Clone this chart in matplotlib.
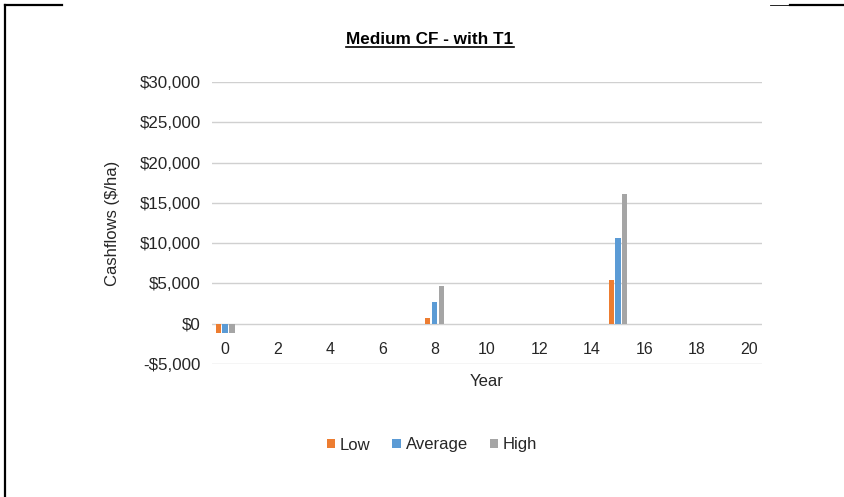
import matplotlib
matplotlib.use("Agg")
import matplotlib.pyplot as plt
from matplotlib.lines import Line2D
from matplotlib.ticker import FuncFormatter
import numpy as np

plt.rcParams['font.family'] = ['Liberation Sans', 'DejaVu Sans']

# Data
years = list(range(0, 21))
low = [0] * 21
average = [0] * 21
high = [0] * 21
low[0], average[0], high[0] = -1200, -1200, -1100
low[8], average[8], high[8] = 700, 2700, 4700
low[15], average[15], high[15] = 5450, 10600, 16100

series_names = ["Low", "Average", "High"]
colors = ["#ED7D31", "#5B9BD5", "#A5A5A5"]
y_ticks = [-5000, 0, 5000, 10000, 15000, 20000, 25000, 30000]
x_ticks = list(range(0, 21, 2))

W, H = 845, 497
fig = plt.figure(figsize=(W / 100, H / 100), dpi=100)
ax = fig.add_axes([212 / W, 1 - 364 / H, 550 / W, 282 / H])

x = np.array(years)
for i, (vals, name, c) in enumerate(zip([low, average, high], series_names, colors)):
    ax.bar(x + (i - 1) * 0.26, vals, width=0.2, color=c, label=name, zorder=3)

ax.set_xlim(-0.5, 20.5)
ax.set_ylim(-5000, 30000)
ax.set_yticks(y_ticks)
ax.set_xticks(x_ticks)


def money(v, pos):
    if v < 0:
        return "-${:,.0f}".format(-v)
    return "${:,.0f}".format(v)


ax.yaxis.set_major_formatter(FuncFormatter(money))
ax.grid(axis='y', color='#d0d0d0', linewidth=1, zorder=0)
for s in ax.spines.values():
    s.set_visible(False)
ax.spines['bottom'].set_position(('data', 0))
ax.tick_params(axis='both', length=0, labelsize=11.5, colors='#262626')
ax.tick_params(axis='y', labelsize=12.2, pad=8)
ax.tick_params(axis='x', pad=13)

ax.set_ylabel("Cashflows ($/ha)", fontsize=12, color='#262626', labelpad=14)
fig.text(487 / W, 1 - 382 / H, "Year", fontsize=12, color='#262626',
         ha='center', va='center')

# title with underline
title = fig.text(430 / W, 1 - 40 / H, "Medium CF - with T1", fontsize=12.3,
                 fontweight='bold', ha='center', va='center', color='black')
fig.canvas.draw()
bb = title.get_window_extent().transformed(fig.transFigure.inverted())
fig.add_artist(Line2D([bb.x0, bb.x1], [bb.y0 + 0.002, bb.y0 + 0.002],
                      transform=fig.transFigure, color='black', linewidth=1.2))

leg = fig.legend(loc='center', bbox_to_anchor=(432 / W, 1 - 445 / H), ncol=3,
                 frameon=False, fontsize=12, handlelength=0.5, handleheight=0.5,
                 handletextpad=0.3, columnspacing=1.3)
for t in leg.get_texts():
    t.set_color('#262626')

# page border fragments
fig.add_artist(Line2D([5.5 / W, 5.5 / W], [1 - 4.5 / H, 0], transform=fig.transFigure,
                      color='black', linewidth=1.6))
fig.add_artist(Line2D([5.5 / W, 62 / W], [1 - 4.5 / H, 1 - 4.5 / H], transform=fig.transFigure,
                      color='black', linewidth=1.6))
fig.add_artist(Line2D([770 / W, 793 / W], [1 - 4.5 / H, 1 - 4.5 / H], transform=fig.transFigure,
                      color='black', linewidth=0.6))
fig.add_artist(Line2D([790 / W, 1], [1 - 5 / H, 1 - 5 / H], transform=fig.transFigure,
                      color='black', linewidth=1.6))

fig.savefig("out.png", dpi=100)
